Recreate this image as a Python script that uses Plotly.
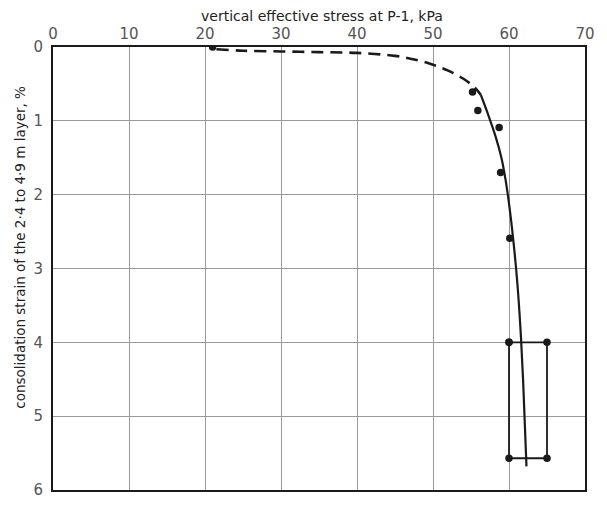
import plotly.graph_objects as go

# Measured points: vertical effective stress (kPa) vs consolidation strain (%)
stress_pts = [21.0, 55.2, 55.9, 58.7, 58.9, 60.1]
strain_pts = [0.0, 0.61, 0.86, 1.09, 1.70, 2.59]

# Early-stage trend (dashed)
dash_stress = [21.5, 25, 30, 35, 40, 45, 48, 50, 52, 54, 55.5, 56.3]
dash_strain = [0.03, 0.05, 0.06, 0.07, 0.08, 0.12, 0.18, 0.24, 0.32, 0.43, 0.55, 0.65]

# Later-stage trend (solid)
solid_stress = [56.3, 57.2, 58.2, 59.0, 59.55, 60.1, 60.65, 61.1, 61.5, 61.85, 62.3]
solid_strain = [0.65, 0.9, 1.2, 1.5, 1.8, 2.2, 2.7, 3.2, 3.8, 4.5, 5.68]

# Range box
box_stress = [60, 65, 65, 60, 60]
box_strain = [4.0, 4.0, 5.57, 5.57, 4.0]

x_ticks = [0, 10, 20, 30, 40, 50, 60, 70]
y_ticks = [0, 1, 2, 3, 4, 5, 6]

ink = "#1a1a1a"
font = "DejaVu Sans"

fig = go.Figure()
fig.add_trace(go.Scatter(x=dash_stress, y=dash_strain, mode="lines",
                         line=dict(color=ink, width=2.6, dash="12px,7px", shape="spline")))
fig.add_trace(go.Scatter(x=solid_stress, y=solid_strain, mode="lines",
                         line=dict(color=ink, width=2.2, shape="spline", smoothing=1)))
fig.add_trace(go.Scatter(x=box_stress, y=box_strain, mode="lines+markers",
                         line=dict(color=ink, width=1.8),
                         marker=dict(color=ink, size=7.5)))
fig.add_trace(go.Scatter(x=stress_pts, y=strain_pts, mode="markers",
                         marker=dict(color=ink, size=7.5)))

fig.update_layout(
    width=607, height=507,
    margin=dict(l=53, r=22, t=47, b=8),
    paper_bgcolor="white", plot_bgcolor="white",
    showlegend=False,
    font=dict(family=font, color="#333"),
    xaxis=dict(side="top", range=[0, 70], tickvals=x_ticks,
               showgrid=True, gridcolor="#9a9a9a", gridwidth=1,
               zeroline=False, showline=True, linecolor=ink, linewidth=2, mirror=True,
               ticks="", ticklabelstandoff=0, tickfont=dict(size=15, color="#555")),
    yaxis=dict(autorange=False, range=[6, 0], tickvals=y_ticks,
               showgrid=True, gridcolor="#9a9a9a", gridwidth=1,
               zeroline=False, showline=True, linecolor=ink, linewidth=2, mirror=True,
               ticks="", ticklabelstandoff=5, tickfont=dict(size=15, color="#555")),
)

fig.add_annotation(text="vertical effective stress at P-1, kPa",
                   xref="paper", yref="paper", x=0.505, y=1.07,
                   xanchor="center", yanchor="middle", showarrow=False,
                   font=dict(size=14, color="#222", family=font))
fig.add_annotation(text="consolidation strain of the 2·4 to 4·9 m layer, %",
                   xref="paper", yref="paper", x=-0.062, y=0.547,
                   xanchor="center", yanchor="middle",
                   textangle=-90, showarrow=False,
                   font=dict(size=13.5, color="#222", family=font))

fig.write_html("out.html")
